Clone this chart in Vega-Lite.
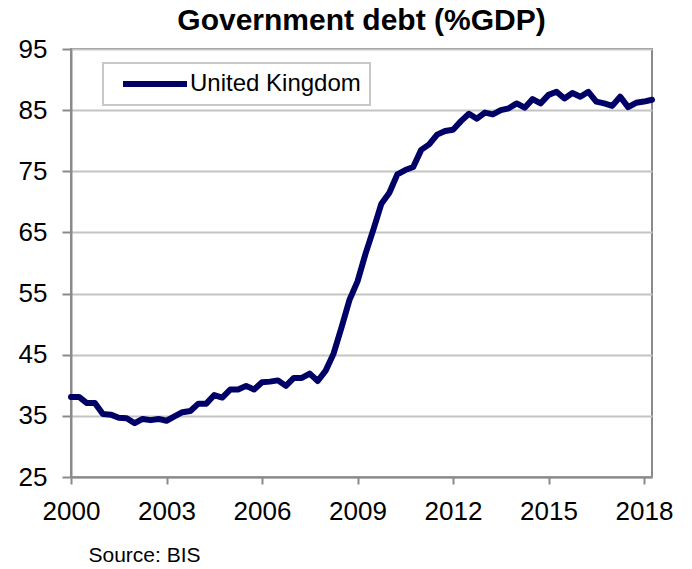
{
  "$schema": "https://vega.github.io/schema/vega-lite/v6.json",
  "width": 581,
  "height": 428,
  "autosize": {"type": "none"},
  "padding": {"left": 71, "top": 49, "right": 40, "bottom": 92},
  "background": "white",
  "title": {
    "text": "Government debt (%GDP)",
    "font": "Liberation Sans",
    "fontSize": 30,
    "fontWeight": "bold",
    "color": "black",
    "anchor": "middle",
    "offset": 0
  },
  "config": {
    "view": {"stroke": "#8a8a8a", "strokeWidth": 2},
    "axis": {
      "labelFont": "Liberation Sans",
      "labelFontSize": 26,
      "labelColor": "black",
      "domainColor": "#8a8a8a",
      "domainWidth": 2,
      "tickColor": "#8a8a8a",
      "tickWidth": 2,
      "gridColor": "#c4c4c4",
      "gridWidth": 2
    },
    "legend": {
      "strokeWidth": 2
    }
  },
  "data": {
    "values": [
      {"date": 2000.00, "debt": 38.1}, {"date": 2000.25, "debt": 38.1},
      {"date": 2000.50, "debt": 37.1}, {"date": 2000.75, "debt": 37.1},
      {"date": 2001.00, "debt": 35.3}, {"date": 2001.25, "debt": 35.2},
      {"date": 2001.50, "debt": 34.7}, {"date": 2001.75, "debt": 34.6},
      {"date": 2002.00, "debt": 33.8}, {"date": 2002.25, "debt": 34.5},
      {"date": 2002.50, "debt": 34.3}, {"date": 2002.75, "debt": 34.5},
      {"date": 2003.00, "debt": 34.2}, {"date": 2003.25, "debt": 34.9},
      {"date": 2003.50, "debt": 35.6}, {"date": 2003.75, "debt": 35.8},
      {"date": 2004.00, "debt": 37.0}, {"date": 2004.25, "debt": 37.0},
      {"date": 2004.50, "debt": 38.4}, {"date": 2004.75, "debt": 38.0},
      {"date": 2005.00, "debt": 39.3}, {"date": 2005.25, "debt": 39.3},
      {"date": 2005.50, "debt": 39.9}, {"date": 2005.75, "debt": 39.3},
      {"date": 2006.00, "debt": 40.5}, {"date": 2006.25, "debt": 40.6},
      {"date": 2006.50, "debt": 40.8}, {"date": 2006.75, "debt": 39.9},
      {"date": 2007.00, "debt": 41.2}, {"date": 2007.25, "debt": 41.2},
      {"date": 2007.50, "debt": 41.9}, {"date": 2007.75, "debt": 40.7},
      {"date": 2008.00, "debt": 42.4}, {"date": 2008.25, "debt": 45.2},
      {"date": 2008.50, "debt": 49.5}, {"date": 2008.75, "debt": 54.0},
      {"date": 2009.00, "debt": 57.0}, {"date": 2009.25, "debt": 61.5},
      {"date": 2009.50, "debt": 65.5}, {"date": 2009.75, "debt": 69.7},
      {"date": 2010.00, "debt": 71.5}, {"date": 2010.25, "debt": 74.5},
      {"date": 2010.50, "debt": 75.2}, {"date": 2010.75, "debt": 75.7},
      {"date": 2011.00, "debt": 78.5}, {"date": 2011.25, "debt": 79.4},
      {"date": 2011.50, "debt": 81.0}, {"date": 2011.75, "debt": 81.6},
      {"date": 2012.00, "debt": 81.8}, {"date": 2012.25, "debt": 83.2},
      {"date": 2012.50, "debt": 84.4}, {"date": 2012.75, "debt": 83.6},
      {"date": 2013.00, "debt": 84.6}, {"date": 2013.25, "debt": 84.3},
      {"date": 2013.50, "debt": 85.0}, {"date": 2013.75, "debt": 85.3},
      {"date": 2014.00, "debt": 86.1}, {"date": 2014.25, "debt": 85.4},
      {"date": 2014.50, "debt": 86.8}, {"date": 2014.75, "debt": 86.1},
      {"date": 2015.00, "debt": 87.5}, {"date": 2015.25, "debt": 88.0},
      {"date": 2015.50, "debt": 86.9}, {"date": 2015.75, "debt": 87.8},
      {"date": 2016.00, "debt": 87.2}, {"date": 2016.25, "debt": 88.0},
      {"date": 2016.50, "debt": 86.4}, {"date": 2016.75, "debt": 86.1},
      {"date": 2017.00, "debt": 85.7}, {"date": 2017.25, "debt": 87.2},
      {"date": 2017.50, "debt": 85.5}, {"date": 2017.75, "debt": 86.2},
      {"date": 2018.00, "debt": 86.4}, {"date": 2018.25, "debt": 86.7}
    ]
  },
  "mark": {
    "type": "line",
    "strokeWidth": 6,
    "strokeJoin": "round",
    "strokeCap": "round",
    "clip": false
  },
  "encoding": {
    "x": {
      "field": "date",
      "type": "quantitative",
      "scale": {"domain": [2000, 2018.25], "nice": false, "zero": false},
      "axis": {
        "values": [2000, 2003, 2006, 2009, 2012, 2015, 2018],
        "format": "d",
        "grid": false,
        "labelFlush": false,
        "tickSize": 7,
        "labelPadding": 14,
        "title": "Source: BIS",
        "titleFont": "Liberation Sans",
        "titleFontSize": 21,
        "titleFontWeight": "normal",
        "titleColor": "black",
        "titleAlign": "left",
        "titleBaseline": "top",
        "titleX": 17,
        "titleY": 67
      }
    },
    "y": {
      "field": "debt",
      "type": "quantitative",
      "scale": {"domain": [25, 95], "nice": false, "zero": false},
      "axis": {
        "values": [25, 35, 45, 55, 65, 75, 85, 95],
        "title": null,
        "grid": true,
        "tickSize": 9,
        "labelPadding": 15
      }
    },
    "color": {
      "datum": "United Kingdom",
      "scale": {"range": ["#000066"]},
      "legend": {
        "title": null,
        "orient": "none",
        "legendX": 32,
        "legendY": 14,
        "symbolType": "M-4,0H4",
        "symbolSize": 256,
        "symbolStrokeWidth": 6,
        "symbolOffset": 31,
        "labelFont": "Liberation Sans",
        "labelFontSize": 24,
        "labelColor": "black",
        "labelOffset": 23,
        "labelLimit": 400,
        "padding": 9,
        "strokeColor": "#c8c8c8",
        "fillColor": "white"
      }
    }
  }
}
